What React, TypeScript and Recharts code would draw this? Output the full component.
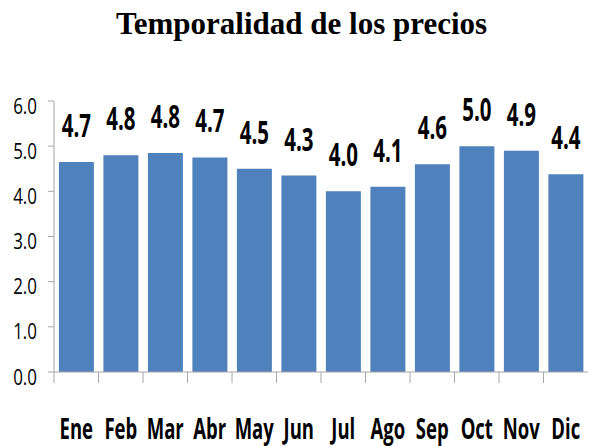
import { BarChart, Bar, XAxis, YAxis, LabelList } from "recharts";

const months = ["Ene", "Feb", "Mar", "Abr", "May", "Jun", "Jul", "Ago", "Sep", "Oct", "Nov", "Dic"];
const values = [4.65, 4.8, 4.85, 4.75, 4.5, 4.35, 4.0, 4.1, 4.6, 5.0, 4.9, 4.38];
const labels = ["4.7", "4.8", "4.8", "4.7", "4.5", "4.3", "4.0", "4.1", "4.6", "5.0", "4.9", "4.4"];
const yTicks = [0, 1, 2, 3, 4, 5, 6];

const data = months.map((m, i) => ({ month: m, value: values[i], label: labels[i] }));

const FONT = "'Open Sans', 'DejaVu Sans', sans-serif";
const AXIS = "#a6a6a6";

// condensed look: draw text at origin and squeeze it horizontally
function Squeezed({ x, y, sx, size, bold, anchor, children }: any) {
  return (
    <text
      transform={`translate(${x},${y}) scale(${sx},1)`}
      x={0}
      y={0}
      textAnchor={anchor}
      fontFamily={FONT}
      fontWeight={bold ? "bold" : "normal"}
      fontSize={size}
      fill="#000"
    >
      {children}
    </text>
  );
}

function MonthTick(props: any) {
  const { x, y, payload } = props;
  const off = payload.offset || 0;
  return (
    <g>
      <line x1={x - off} x2={x - off} y1={y} y2={y + 11} stroke={AXIS} strokeWidth={1} />
      <Squeezed x={x} y={y + 67} sx={0.66} size={28} bold anchor="middle">
        {payload.value}
      </Squeezed>
    </g>
  );
}

function ValueTick(props: any) {
  const { y, payload } = props;
  return (
    <Squeezed x={37} y={y + 12.5} sx={0.77} size={22} anchor="end">
      {Number(payload.value).toFixed(1)}
    </Squeezed>
  );
}

function BarValue(props: any) {
  const { x, y, width, value } = props;
  return (
    <Squeezed x={x + width / 2} y={y - 25} sx={0.64} size={32} bold anchor="middle">
      {value}
    </Squeezed>
  );
}

export default function App() {
  return (
    <div style={{ position: "absolute", left: 0, top: 0, width: 590, height: 446, background: "#fff" }}>
      <div
        style={{
          position: "absolute",
          top: 6,
          left: 0,
          width: 603,
          textAlign: "center",
          fontFamily: "'Liberation Serif', 'Times New Roman', serif",
          fontWeight: "bold",
          fontSize: 31,
          lineHeight: "36px",
        }}
      >
        Temporalidad de los precios
      </div>
      <BarChart
        width={590}
        height={446}
        data={data}
        margin={{ top: 101, right: 2, left: 4, bottom: 14 }}
        barCategoryGap="11%"
      >
        <YAxis
          domain={[0, 6]}
          ticks={yTicks}
          interval={0}
          width={50}
          tick={<ValueTick />}
          axisLine={{ stroke: AXIS }}
          tickLine={{ stroke: AXIS }}
          tickSize={6}
        />
        <XAxis
          dataKey="month"
          height={60}
          interval={0}
          axisLine={{ stroke: AXIS }}
          tickLine={false}
          tickSize={0}
          tickMargin={0}
          tick={<MonthTick />}
        />
        <Bar dataKey="value" fill="#4f81bd" isAnimationActive={false}>
          <LabelList dataKey="label" content={<BarValue />} />
        </Bar>
      </BarChart>
    </div>
  );
}
